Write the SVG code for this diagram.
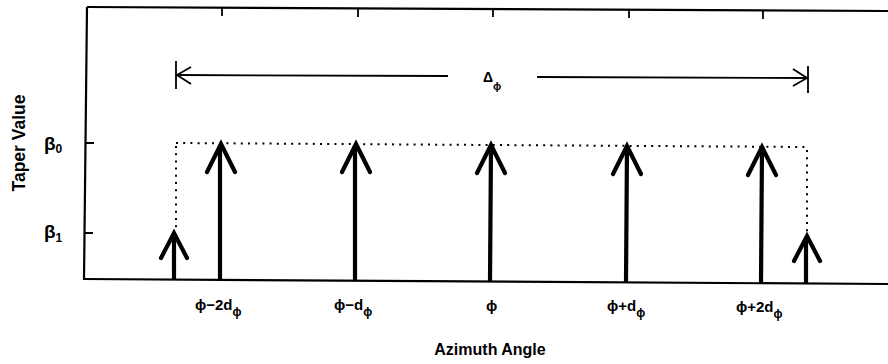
<svg xmlns="http://www.w3.org/2000/svg" width="888" height="364" viewBox="0 0 888 364">
<style>
.ax{stroke:#000;stroke-width:2.2;fill:none}
.tk{stroke:#000;stroke-width:1.8;fill:none}
.st{stroke:#000;stroke-width:4.2;fill:none;stroke-linecap:butt}
.hd{stroke:#000;stroke-width:4.2;fill:none;stroke-linecap:round;stroke-linejoin:miter}
.dim{stroke:#000;stroke-width:1.8;fill:none}
.dot{stroke:#000;stroke-width:2;fill:none;stroke-dasharray:2 5.2}
text{font-family:"Liberation Sans",Arial,sans-serif;font-weight:bold;fill:#000}
.lab{font-size:15px}
.sub{font-size:12px}
.ttl{font-size:16px}
</style>
<defs>
<path id="head" d="M-14,28 L0,0 L14,28"/>
<path id="shead" d="M-13,25 L0,0 L13,25"/>
</defs>
<g id="axes">
<path class="ax" d="M87,7 L888,11"/>
<path class="ax" d="M87,7 L84,280"/>
<path class="ax" d="M84,279 L888,284"/>
<path class="tk" d="M222,8 L222,16 M358,9 L358,17 M493,9 L493,17 M629,10 L629,18 M763,11 L763,19"/>
<path class="tk" d="M86,143 L94,143 M85,233 L93,233"/>
</g>
<g id="ylabels">
<text transform="translate(25,143) rotate(-90)" text-anchor="middle" font-size="17.5">Taper Value</text>
<text x="44" y="150" font-size="19" font-weight="normal">β<tspan font-size="12" font-weight="bold" dy="3">0</tspan></text>
<text x="44" y="238" font-size="19" font-weight="normal">β<tspan font-size="12" font-weight="bold" dy="4">1</tspan></text>
</g>
<g id="connectors">
<path class="dot" d="M176,143 L807,147"/>
<path class="dot" d="M176,146 L176,232"/>
<path class="dot" d="M807,150 L807,235"/>
<path class="dim" d="M176,61 L176,89 M808,66 L808,93"/>
<path class="dim" d="M176,75 L448,76 M537,77 L808,78"/>
<path class="dim" d="M191,67 L177,75 L191,84 M793,69 L807,78 L793,86"/>
</g>
<g id="arrow-l1">
<path class="st" d="M174,280 L174,234"/>
<use href="#shead" class="hd" transform="translate(174,233)"/>
</g>
<g id="arrow-m2">
<path class="st" d="M220,280 L220,145"/>
<use href="#head" class="hd" transform="translate(221,144)"/>
</g>
<g id="arrow-m1">
<path class="st" d="M355,280 L355,145"/>
<use href="#head" class="hd" transform="translate(356,144)"/>
</g>
<g id="arrow-0">
<path class="st" d="M490,281 L491,146"/>
<use href="#head" class="hd" transform="translate(491,145)"/>
</g>
<g id="arrow-p1">
<path class="st" d="M626,282 L627,147"/>
<use href="#head" class="hd" transform="translate(627,146)"/>
</g>
<g id="arrow-p2">
<path class="st" d="M761,283 L762,148"/>
<use href="#head" class="hd" transform="translate(762,147)"/>
</g>
<g id="arrow-r1">
<path class="st" d="M806,283 L806,237"/>
<use href="#shead" class="hd" transform="translate(807,236)"/>
</g>
<g id="dlabel">
<text x="483" y="82" font-size="14">Δ<tspan font-size="11" dy="8">ϕ</tspan></text>
</g>
<g id="xlabels">
<text class="lab" x="195" y="310">ϕ−2d<tspan class="sub" dy="6">ϕ</tspan></text>
<text class="lab" x="334" y="310">ϕ−d<tspan class="sub" dy="6">ϕ</tspan></text>
<text class="lab" x="486" y="311">ϕ</text>
<text class="lab" x="607" y="311">ϕ+d<tspan class="sub" dy="6">ϕ</tspan></text>
<text class="lab" x="736" y="312">ϕ+2d<tspan class="sub" dy="6">ϕ</tspan></text>
<text class="ttl" x="490" y="355" text-anchor="middle">Azimuth Angle</text>
</g>
</svg>
